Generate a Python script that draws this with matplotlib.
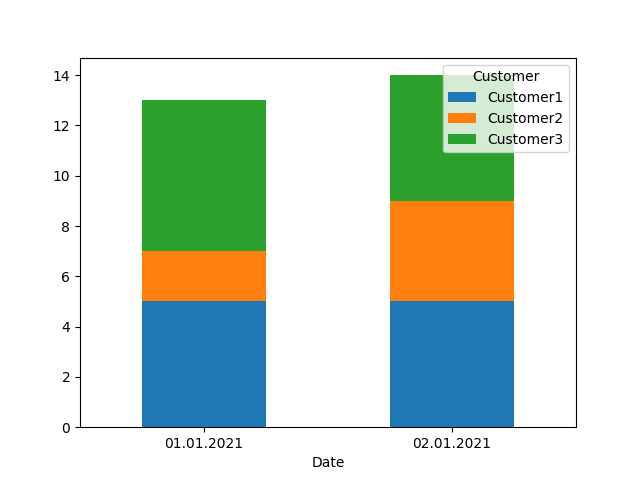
import pandas as pd
import matplotlib
matplotlib.use("Agg")
import matplotlib.pyplot as plt

dates = ["01.01.2021", "02.01.2021"]
customer1 = [5, 5]
customer2 = [2, 4]
customer3 = [6, 5]

df = pd.DataFrame(
    {"Customer1": customer1, "Customer2": customer2, "Customer3": customer3},
    index=pd.Index(dates, name="Date"),
)
df.columns.name = "Customer"

fig, ax = plt.subplots(figsize=(6.4, 4.8), dpi=100)
df.plot(kind="bar", stacked=True, rot=0, ax=ax)
plt.savefig("out.png")
